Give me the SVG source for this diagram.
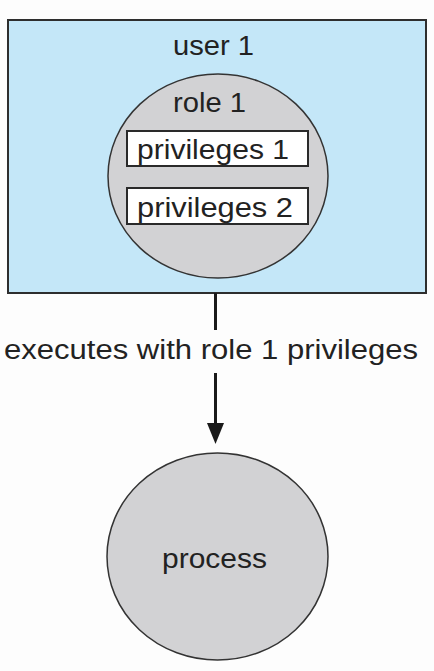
<svg xmlns="http://www.w3.org/2000/svg" width="434" height="671" viewBox="0 0 434 671">
<style>
  text { font-family: "Liberation Sans", Arial, Helvetica, sans-serif; font-size: 27px; fill: #222; }
  .blob { fill: #d2d2d4; stroke: #333; stroke-width: 1.5; }
  .priv { fill: #ffffff; stroke: #2a2a2a; stroke-width: 2; }
  .conn { stroke: #1a1a1a; stroke-width: 3; fill: none; }
</style>
<rect x="0" y="0" width="434" height="671" fill="#fdfdfd"/>
<g id="user1">
  <rect x="8" y="20" width="418" height="273" fill="#c4e7f8" stroke="#2e2e2e" stroke-width="2"/>
  <text x="173" y="55" font-size="26" textLength="81" lengthAdjust="spacingAndGlyphs">user 1</text>
</g>
<g id="role1">
  <ellipse class="blob" cx="218" cy="176" rx="110" ry="102"/>
  <text x="173" y="112" font-size="26" textLength="73" lengthAdjust="spacingAndGlyphs">role 1</text>
</g>
<g id="privileges1">
  <rect class="priv" x="127" y="131" width="181" height="35"/>
  <text x="137" y="159" textLength="152" lengthAdjust="spacingAndGlyphs">privileges 1</text>
</g>
<g id="privileges2">
  <rect class="priv" x="127" y="188" width="181" height="36"/>
  <text x="137" y="217" textLength="156" lengthAdjust="spacingAndGlyphs">privileges 2</text>
</g>
<g id="process">
  <ellipse class="blob" cx="217.5" cy="556.5" rx="110.5" ry="103.5"/>
  <text x="162" y="568" textLength="105" lengthAdjust="spacingAndGlyphs">process</text>
</g>
<g id="connectors">
  <line class="conn" x1="215.5" y1="293" x2="215.5" y2="330"/>
  <line class="conn" x1="215.5" y1="373" x2="215.5" y2="424"/>
  <path d="M207,423 L224,423 L215.5,444 Z" fill="#1a1a1a"/>
  <text x="4" y="359" font-size="28" textLength="414" lengthAdjust="spacingAndGlyphs">executes with role 1 privileges</text>
</g>
</svg>
